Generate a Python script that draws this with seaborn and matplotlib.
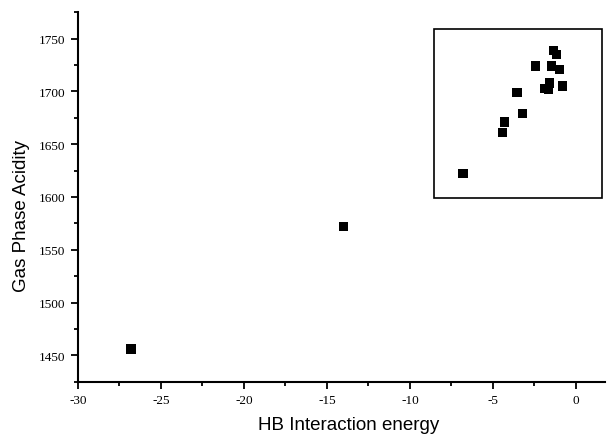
import matplotlib
matplotlib.use('Agg')
import matplotlib.pyplot as plt
from matplotlib.patches import Rectangle
from matplotlib.ticker import MultipleLocator
import pandas as pd
import seaborn as sns

# valores
hb_energy = [-26.8, -14.0, -6.8, -4.43, -4.28, -3.23, -3.55, -2.43, -1.87,
             -1.58, -1.63, -1.46, -0.98, -1.34, -1.18, -0.82]
gas_acidity = [1456, 1572, 1622, 1661, 1671, 1679, 1699, 1724, 1703,
               1708, 1702, 1724, 1721, 1739, 1735, 1705]

df = pd.DataFrame({'HB Interaction energy': hb_energy,
                   'Gas Phase Acidity': gas_acidity})

sns.set_style('ticks')
plt.rcParams['axes.unicode_minus'] = False
plt.rcParams['text.color'] = 'black'
plt.rcParams['axes.labelcolor'] = 'black'
plt.rcParams['axes.edgecolor'] = 'black'
plt.rcParams['xtick.color'] = 'black'
plt.rcParams['ytick.color'] = 'black'

fig = plt.figure(figsize=(6.08, 4.39), dpi=100)
ax = fig.add_axes([0.128, 0.128, 0.867, 0.842])

sns.scatterplot(data=df, x='HB Interaction energy', y='Gas Phase Acidity',
                marker='s', s=44, color='black', edgecolor='none', ax=ax)

# recuadro de zoom alrededor del grupo de puntos
ax.add_patch(Rectangle((-8.57, 1599), 10.17, 160.5, fill=False,
                       edgecolor='black', linewidth=1.2))

ax.set_xlim(-30, 1.75)
ax.set_ylim(1425, 1775)
ax.xaxis.set_major_locator(MultipleLocator(5))
ax.xaxis.set_minor_locator(MultipleLocator(2.5))
ax.yaxis.set_major_locator(MultipleLocator(50))
ax.yaxis.set_minor_locator(MultipleLocator(25))

for sp in ['top', 'right']:
    ax.spines[sp].set_visible(False)
for sp in ['left', 'bottom']:
    ax.spines[sp].set_linewidth(1.5)

ax.tick_params(which='major', direction='out', length=5, width=1.3, pad=4)
ax.tick_params(which='minor', direction='out', length=3, width=1.3)
for lab in ax.get_xticklabels() + ax.get_yticklabels():
    lab.set_fontfamily('Liberation Serif')
    lab.set_fontsize(9.5)

ax.set_xlabel('HB Interaction energy', fontsize=13.5, family='Liberation Sans')
ax.set_ylabel('Gas Phase Acidity', fontsize=13.5, family='Liberation Sans')
ax.xaxis.set_label_coords(0.513, -0.092)
ax.yaxis.set_label_coords(-0.09, 0.45)

plt.savefig('out.png', dpi=100)
